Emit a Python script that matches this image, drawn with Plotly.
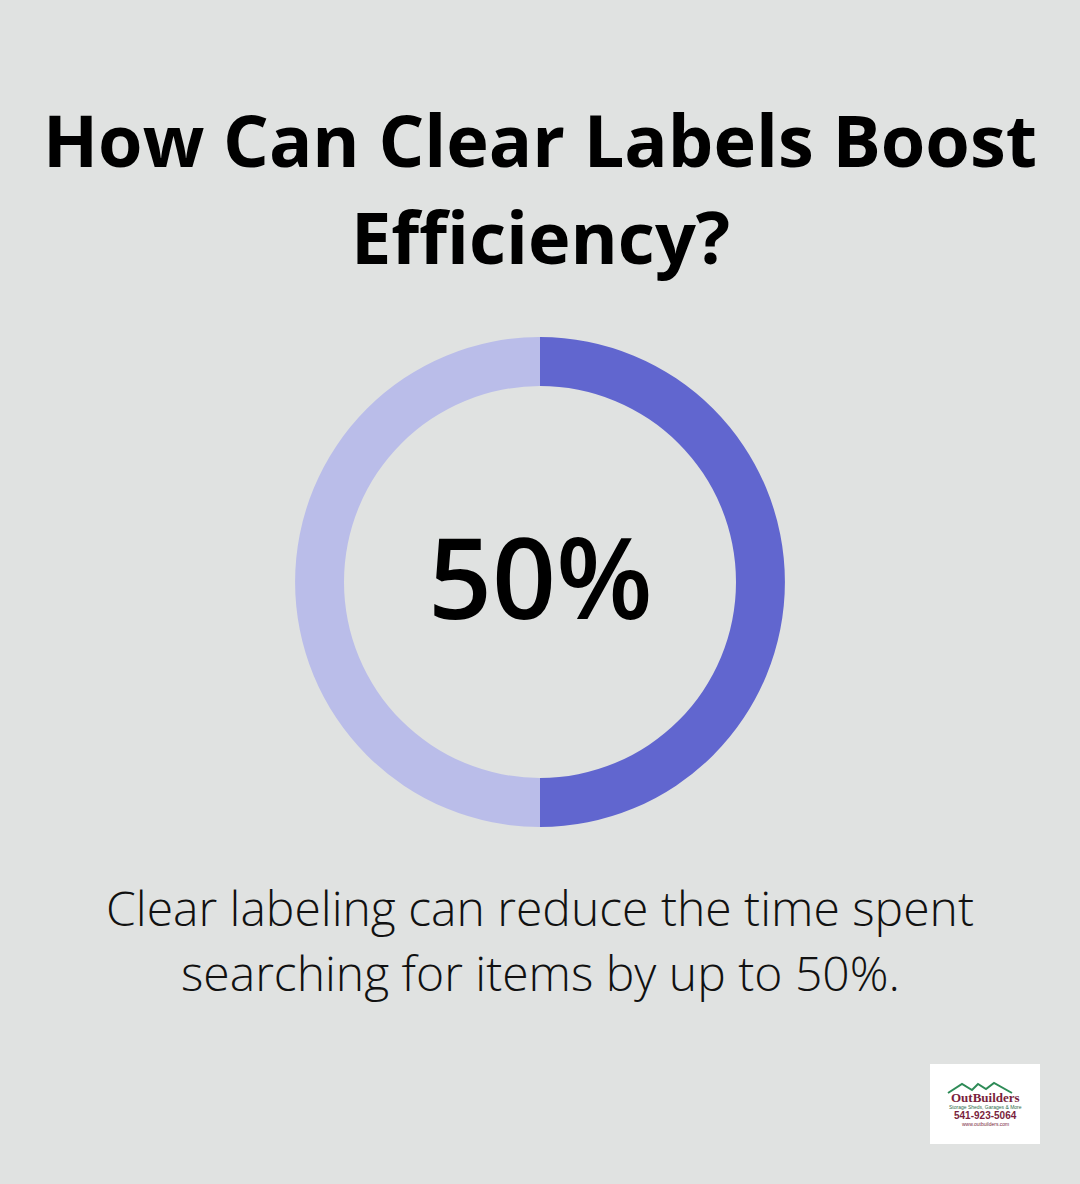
import plotly.graph_objects as go

W, H = 1080, 1184

# Data
labels = ["Time saved", "Remaining"]
values = [50, 50]
colors = ["#6166CF", "#BABDE9"]
title_lines = ["How Can Clear Labels Boost", "Efficiency?"]
center_text = "50%"
caption_lines = ["Clear labeling can reduce the time spent", "searching for items by up to 50%."]

BG = "#E0E2E1"

def px_x(x):
    return x / W

def px_y(y):
    return 1 - y / H

fig = go.Figure()
fig.add_trace(go.Pie(
    labels=labels, values=values, hole=0.80, sort=False, direction="clockwise",
    rotation=0, marker=dict(colors=colors, line=dict(width=0)),
    textinfo="none", hoverinfo="label+percent", showlegend=False,
    domain=dict(x=[px_x(295), px_x(785)], y=[px_y(827), px_y(337)]),
))

ann = []
# Title
ann.append(dict(text=f"<b>{title_lines[0]}</b>", x=0.5, y=px_y(139), xref="paper", yref="paper",
                showarrow=False, font=dict(family="Open Sans", size=72, color="#000000"),
                xanchor="center", yanchor="middle"))
ann.append(dict(text=f"<b>{title_lines[1]}</b>", x=0.5, y=px_y(236), xref="paper", yref="paper",
                showarrow=False, font=dict(family="Open Sans", size=72, color="#000000"),
                xanchor="center", yanchor="middle"))
# Center
ann.append(dict(text=center_text, x=0.5, y=px_y(575), xref="paper", yref="paper",
                showarrow=False, font=dict(family="Open Sans", size=112, color="#000000", weight=600),
                xanchor="center", yanchor="middle"))
# Caption
for i, ln in enumerate(caption_lines):
    ann.append(dict(text=ln, x=0.5, y=px_y(907 + 65 * i), xref="paper", yref="paper",
                    showarrow=False, font=dict(family="Open Sans", size=48, color="#111111", weight=300),
                    xanchor="center", yanchor="middle"))

# Logo
shapes = [dict(type="rect", xref="paper", yref="paper", x0=px_x(930), x1=px_x(1040),
               y0=px_y(1144), y1=px_y(1064), fillcolor="#FFFFFF", line=dict(width=0), layer="above")]
roof = [(948, 1093), (962, 1084), (972, 1090), (978, 1084), (986, 1089), (994, 1083), (1012, 1093)]
path = "M " + " L ".join(f"{px_x(x)},{px_y(y)}" for x, y in roof)
shapes.append(dict(type="path", xref="paper", yref="paper", path=path,
                   line=dict(color="#2E8B57", width=2), layer="above"))
logo_texts = [
    ("<b>OutBuilders</b>", 1097, "Liberation Serif", 13, "#7A1F3D"),
    ("Storage Sheds, Garages & More", 1107, "Liberation Sans", 5, "#2E6B4A"),
    ("<b>541-923-5064</b>", 1115, "Liberation Sans", 10, "#7A1F3D"),
    ("www.outbuilders.com", 1124, "Liberation Sans", 5, "#7A1F3D"),
]
for txt, yy, fam, sz, col in logo_texts:
    ann.append(dict(text=txt, x=px_x(985), y=px_y(yy), xref="paper", yref="paper",
                    showarrow=False, font=dict(family=fam, size=sz, color=col),
                    xanchor="center", yanchor="middle", borderpad=0))

fig.update_layout(
    width=W, height=H, margin=dict(l=0, r=0, t=0, b=0),
    paper_bgcolor=BG, plot_bgcolor=BG,
    annotations=ann, shapes=shapes, showlegend=False,
)

fig.write_html("out.html", config={"displayModeBar": False})
